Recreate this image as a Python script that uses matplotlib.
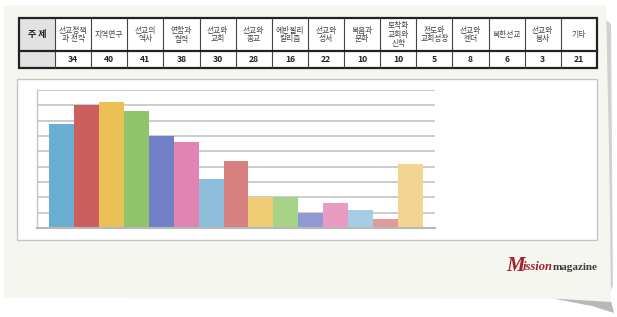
import matplotlib
matplotlib.use("Agg")
import matplotlib.pyplot as plt
from matplotlib.patches import Rectangle, Polygon

plt.rcParams['font.family'] = ['Noto Sans CJK KR', 'DejaVu Sans']

# ---- data ----
topics = ["선교정책\n과 전략", "지역연구", "선교의\n역사", "연합과\n협력", "선교와\n교회",
          "선교와\n종교", "에반젤리\n칼리즘", "선교와\n성서", "복음과\n문화", "토착화\n교회와\n신학",
          "전도와\n교회성장", "선교와\n젠더", "북한선교", "선교와\n봉사", "기타"]
counts = [34, 40, 41, 38, 30, 28, 16, 22, 10, 10, 5, 8, 6, 3, 21]
row_header = "주 제"
bar_colors = ["#6aaed4", "#cc5e5e", "#ebc155", "#8fc46a", "#717fc7",
              "#e383b1", "#8dbfdb", "#d88080", "#f0cd75", "#a6d388",
              "#9199d2", "#ea9bc3", "#a5cee6", "#e39a9a", "#f3d592"]
y_max = 45
y_step = 5

W, H = 617, 317
fig = plt.figure(figsize=(W / 100, H / 100), dpi=100, facecolor="white")

# background / decoration axes in pixel coordinates
bg = fig.add_axes([0, 0, 1, 1], zorder=0)
bg.set_xlim(0, W)
bg.set_ylim(H, 0)
bg.axis("off")

# shadows of the paper card
bg.add_patch(Polygon([(606, 20), (611, 24), (613, 285), (608, 298)], closed=True,
                     facecolor="#9a9a9a", edgecolor="none", alpha=0.45))
bg.add_patch(Polygon([(545, 297), (611, 301), (614, 313), (592, 306)], closed=True,
                     facecolor="#8a8a8a", edgecolor="none", alpha=0.6))
# paper card
bg.add_patch(Polygon([(4, 5), (606, 5), (609, 150), (611, 302), (560, 299), (4, 298)],
                     closed=True, facecolor="#f6f6f1", edgecolor="none"))
# white panel for chart
bg.add_patch(Rectangle((17, 79), 580, 161, facecolor="white", edgecolor="#c4c4c4", lw=1.0))

# ---- table ----
t_left, t_right = 19, 597
first_w = 36
t_top, t_mid, t_bot = 18, 51, 68
bg.add_patch(Rectangle((t_left, t_top), t_right - t_left, t_bot - t_top,
                       facecolor="white", edgecolor="none"))
bg.add_patch(Rectangle((t_left, t_top), first_w, t_bot - t_top,
                       facecolor="#e2e2e4", edgecolor="none"))
ncol = len(topics)
col_w = (t_right - t_left - first_w) / ncol
xs = [t_left + first_w + i * col_w for i in range(ncol + 1)]
for x in xs[:-1]:
    bg.plot([x, x], [t_top, t_bot], color="#444444", lw=0.8, solid_capstyle="butt")
bg.plot([t_left, t_right], [t_mid, t_mid], color="#222222", lw=1.6)
bg.add_patch(Rectangle((t_left, t_top), t_right - t_left, t_bot - t_top,
                       facecolor="none", edgecolor="#222222", lw=1.6))
bg.text(t_left + first_w / 2, (t_top + t_mid) / 2, row_header, ha="center", va="center",
        fontsize=6.5, fontweight="bold", color="#222222")
for i, (lab, v) in enumerate(zip(topics, counts)):
    cx = (xs[i] + xs[i + 1]) / 2
    bg.text(cx, (t_top + t_mid) / 2 + 0.5, lab, ha="center", va="center", fontsize=5.6,
            color="#444444", linespacing=1.15)
    bg.text(cx, (t_mid + t_bot) / 2 + 0.5, str(v), ha="center", va="center", fontsize=6.2,
            fontweight="bold", color="#222222")

# ---- logo ----
bg.text(506, 271, "M", fontsize=15, fontstyle="italic", fontweight="bold",
        family="Liberation Serif", color="#a3232b", ha="left", va="baseline")
bg.text(523, 270, "ission", fontsize=9, fontstyle="italic", fontweight="bold",
        family="Liberation Serif", color="#a3232b", ha="left", va="baseline")
bg.text(553, 270, "magazine", fontsize=8.0, fontweight="bold", family="Liberation Serif",
        color="#3a3a3a", ha="left", va="baseline")

# ---- bar chart ----
ax_l, ax_r, ax_b, ax_t = 37, 435, 228, 90
ax = fig.add_axes([ax_l / W, (H - ax_b) / H, (ax_r - ax_l) / W, (ax_b - ax_t) / H], zorder=1)
ax.patch.set_alpha(0)
xpos = list(range(len(counts)))
ax.bar(xpos, counts, width=1.0, color=bar_colors, edgecolor="none", zorder=2)
ax.set_xlim(-1, len(counts))
ax.set_ylim(0, y_max)
ax.set_yticks(list(range(y_step, y_max + 1, y_step)))
ax.yaxis.grid(True, color="#c8c8c8", lw=1.3)
ax.set_axisbelow(True)
ax.tick_params(left=False, bottom=False, labelleft=False, labelbottom=False)
for s in ["top", "right"]:
    ax.spines[s].set_visible(False)
ax.spines["left"].set_color("#c4c4c4")
ax.spines["left"].set_linewidth(1.0)
ax.spines["bottom"].set_color("#b8b8b8")
ax.spines["bottom"].set_linewidth(1.5)
ax.set_xticks([])

fig.savefig("out.png", dpi=100, facecolor="white")
